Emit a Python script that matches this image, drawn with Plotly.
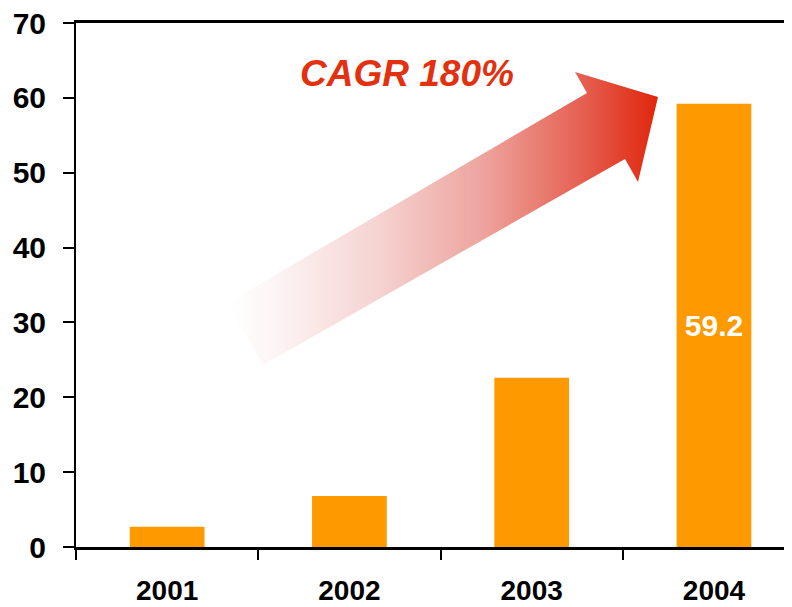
import plotly.graph_objects as go

years = ["2001", "2002", "2003", "2004"]
values = [2.7, 6.8, 22.6, 59.2]
labels = ["", "", "", "59.2"]
y_ticks = [0, 10, 20, 30, 40, 50, 60, 70]
cagr_text = "CAGR 180%"

# decorative arrow outline in screen pixel space (x right, y up from bottom of page)
H = 607
arrow_px = [(227, 303), (587, 93), (575, 72), (658, 97), (638, 182), (625, 159), (263, 365), (227, 303)]
arrow_x = [p[0] for p in arrow_px]
arrow_y = [H - p[1] for p in arrow_px]

FONT = "Liberation Sans, Arial, sans-serif"

fig = go.Figure()
fig.add_trace(go.Bar(
    x=years, y=values, text=labels, textposition="inside", insidetextanchor="middle",
    textfont=dict(color="white", size=30, family=FONT, weight="bold"),
    marker=dict(color="#FF9900", line=dict(width=0)), width=0.41, showlegend=False,
    hoverinfo="skip",
))
fig.add_trace(go.Scatter(
    x=arrow_x, y=arrow_y, xaxis="x2", yaxis="y2", mode="lines", fill="toself",
    line=dict(width=0, color="rgba(0,0,0,0)"),
    fillgradient=dict(type="horizontal", colorscale=[
        [0.0, "rgba(255,255,255,1)"], [0.1, "#fdf6f6"], [0.35, "#f5d3d1"],
        [0.6, "#eda29c"], [0.8, "#e6675a"], [1.0, "#e0260c"]]),
    showlegend=False, hoverinfo="skip",
))

fig.update_layout(
    width=792, height=607,
    margin=dict(l=68, r=0, t=15, b=68, autoexpand=False),
    paper_bgcolor="white", plot_bgcolor="white",
    bargap=0.59,
    xaxis=dict(
        type="category", range=[-0.5, 3.472], showgrid=False, automargin=False,
        showline=True, linecolor="black", linewidth=3, mirror=True,
        ticks="outside", tickson="boundaries", ticklen=10, tickwidth=2, tickcolor="black",
        tickfont=dict(size=28, family=FONT, color="black", weight="bold"),
        ticklabelstandoff=16, zeroline=False, ticklabeloverflow="allow",
    ),
    yaxis=dict(
        range=[0, 70], tickvals=y_ticks, showgrid=False, zeroline=False, automargin=False,
        showline=True, linecolor="black", linewidth=2,
        ticks="outside", ticklen=11, tickwidth=2, tickcolor="black",
        tickfont=dict(size=30, family=FONT, color="black", weight="bold"),
        ticklabelstandoff=11, ticklabeloverflow="allow",
    ),
    xaxis2=dict(overlaying="x", range=[76, 800], visible=False, fixedrange=True),
    yaxis2=dict(overlaying="y", range=[H - 547, H - 23], visible=False, fixedrange=True),
    annotations=[dict(
        text=cagr_text, xref="paper", yref="paper", x=0.4572, y=0.9036,
        xanchor="center", yanchor="middle", showarrow=False,
        font=dict(size=37, family=FONT, color="#E3300E", weight="bold", style="italic"),
    )],
)

fig.write_html("out.html")
